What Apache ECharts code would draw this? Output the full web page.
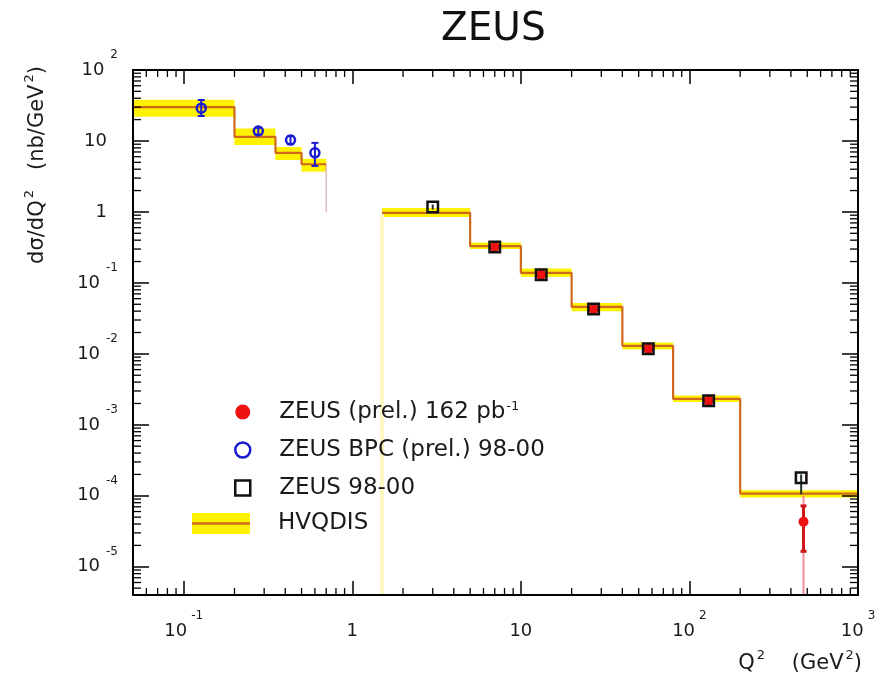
<!DOCTYPE html>
<html><head><meta charset="utf-8">
<script src="https://cdn.jsdelivr.net/npm/echarts@6/dist/echarts.min.js"></script>
<style>html,body{margin:0;padding:0;background:#fff}#c{width:894px;height:689px}</style>
</head><body><div id="c"></div>
<script>
const FONT = '"DejaVu Sans", Verdana, sans-serif';
const TXT = '#1a1a1a';

// ---- axis ranges
const xMin = 0.05, xMax = 1000, yMin = 4e-6, yMax = 100;

// ---- HVQDIS prediction, low-Q2 (BPC) region
const hvqEdgesLow   = [0.05, 0.2, 0.35, 0.5, 0.7];
const hvqCentralLow = [30, 11.4, 6.8, 4.7];
const hvqLoLow      = [22, 8.8, 5.4, 3.7];
const hvqHiLow      = [38, 15.0, 8.2, 5.6];
const hvqDropLow    = 1.0;

// ---- HVQDIS prediction, DIS region
const hvqEdgesHigh   = [1.5, 5, 10, 20, 40, 80, 200, 1000];
const hvqCentralHigh = [0.97, 0.33, 0.138, 0.046, 0.013, 0.00232, 0.000107];
const hvqLoHigh      = [0.85, 0.30, 0.122, 0.040, 0.0115, 0.0021, 0.000095];
const hvqHiHigh      = [1.14, 0.37, 0.160, 0.052, 0.0145, 0.0026, 0.00012];

// ---- ZEUS BPC (prel.) 98-00
const bpcQ2   = [0.127, 0.277, 0.43, 0.60];
const bpcXsec = [29, 13.8, 10.3, 6.8];
const bpcLo   = [22.5, 12.3, 9.0, 4.45];
const bpcHi   = [37.8, 15.3, 11.7, 9.4];

// ---- ZEUS (prel.) 162 pb-1
const redQ2     = [7.0, 13.2, 27, 57, 130, 475];
const redXsec   = [0.32, 0.13, 0.043, 0.0118, 0.00218, 0.000043];
const redStatLo = [0.30, 0.122, 0.040, 0.0110, 0.00200, 0.0000165];
const redStatHi = [0.34, 0.138, 0.046, 0.0127, 0.00238, 0.000072];
const redTotLo  = [0.29, 0.118, 0.039, 0.0106, 0.00192, 0.000004];
const redTotHi  = [0.35, 0.142, 0.047, 0.0131, 0.00246, 0.000100];

// ---- ZEUS 98-00
const sqQ2   = [3.0, 7.0, 13.2, 27, 57, 130, 460];
const sqXsec = [1.17, 0.32, 0.13, 0.043, 0.0118, 0.00218, 0.00018];
const sqLo   = [1.08, 0.30, 0.122, 0.040, 0.0110, 0.00200, 0.000105];
const sqHi   = [1.27, 0.34, 0.138, 0.046, 0.0127, 0.00238, 0.000200];

// ---- tick decades (labels 10^n)
const xDecades = [0.01, 0.1, 1, 10, 100];
const yDecades = [1e-6, 1e-5, 1e-4, 1e-3, 1e-2, 0.1, 1, 10];

const N_RED = 'ZEUS (prel.) 162 pb-1';
const N_BPC = 'ZEUS BPC (prel.) 98-00';
const N_SQ  = 'ZEUS 98-00';
const N_HVQ = 'HVQDIS';

function minorTicks(decades, lo, hi) {
  const out = [];
  decades.forEach(d => { for (let k = 2; k <= 9; k++) { const v = d * k; if (v > lo && v < hi) out.push(v); } });
  return out;
}
const xMinor = minorTicks(xDecades, xMin, xMax);
const yMinor = minorTicks(yDecades, yMin, yMax);

function bands(edges, lo, hi) {
  return lo.map((l, i) => [edges[i], edges[i + 1], l, hi[i]]);
}
function steps(edges, vals) {
  const pts = [];
  vals.forEach((v, i) => { pts.push([edges[i], v]); pts.push([edges[i + 1], v]); });
  return pts;
}
function errs(xs, lo, hi) { return xs.map((x, i) => [x, lo[i], hi[i]]); }

const BAND = '#fff200';
const LINE = '#d0681c';

function errRender(color, width, cap) {
  return function (params, api) {
    const x = api.value(0);
    const a = api.coord([x, api.value(2)]);
    const b = api.coord([x, api.value(1)]);
    const st = { stroke: color, lineWidth: width };
    const ch = [{ type: 'line', shape: { x1: a[0], y1: a[1], x2: b[0], y2: b[1] }, style: st }];
    if (cap) {
      ch.push({ type: 'line', shape: { x1: a[0] - cap, y1: a[1], x2: a[0] + cap, y2: a[1] }, style: st });
      ch.push({ type: 'line', shape: { x1: b[0] - cap, y1: b[1], x2: b[0] + cap, y2: b[1] }, style: st });
    }
    return { type: 'group', children: ch };
  };
}

function tickLabel(v) {
  const e = Math.round(Math.log10(v));
  if (e === 0) return '{bp|1}';
  if (e === 1) return '{bp|10}';
  return '{b|10}{e|' + e + '}';
}
const tickRich = {
  b:  { fontSize: 18, lineHeight: 42, fontFamily: FONT, color: TXT },
  bp: { fontSize: 18, lineHeight: 42, fontFamily: FONT, color: TXT, padding: [0, 11, 0, 0] },
  e:  { fontSize: 12, lineHeight: 14, fontFamily: FONT, color: TXT, verticalAlign: 'top', padding: [0, 0, 0, 6] }
};
const tickRichX = {
  b:  tickRich.b,
  bp: { fontSize: 18, lineHeight: 42, fontFamily: FONT, color: TXT },
  e:  { fontSize: 12, lineHeight: 14, fontFamily: FONT, color: TXT, verticalAlign: 'top', padding: [0, 0, 0, 4] }
};
const nameRich = {
  b: { fontSize: 21, lineHeight: 30, fontFamily: FONT, color: TXT },
  s: { fontSize: 13, lineHeight: 13, fontFamily: FONT, color: TXT, verticalAlign: 'top', padding: [0, 0, 0, 2] }
};

const frame = { show: true, onZero: false, lineStyle: { color: '#000', width: 2 } };
const majorTickX = { show: true, inside: true, length: 14, lineStyle: { color: '#000', width: 1.5 } };
const majorTickY = { show: true, inside: true, length: 16, lineStyle: { color: '#000', width: 1.5 } };

const option = {
  animation: false,
  backgroundColor: '#fff',
  title: {
    text: 'ZEUS', left: 441, top: 10, padding: 0,
    textStyle: { fontSize: 39, fontWeight: 'normal', fontFamily: FONT, color: '#111', lineHeight: 40 }
  },
  grid: { left: 133, right: 36, top: 70, bottom: 94 },
  xAxis: [
    {
      type: 'log', logBase: 10, min: xMin, max: xMax, position: 'bottom', z: 10,
      axisLine: frame, axisTick: majorTickX,
      splitLine: { show: false }, minorTick: { show: false },
      axisLabel: { margin: 15, showMinLabel: false, showMaxLabel: true, formatter: tickLabel, rich: tickRichX, fontFamily: FONT, color: TXT },
      name: '{b|Q}{s|2}{b|    (GeV}{s|2}{b|)}', nameLocation: 'end', nameGap: 4,
      nameTextStyle: { align: 'right', verticalAlign: 'top', padding: [54, 0, 0, 0], fontFamily: FONT, color: TXT, rich: nameRich }
    },
    {
      type: 'log', logBase: 10, min: xMin, max: xMax, position: 'top', z: 10,
      axisLine: frame, axisTick: majorTickX,
      splitLine: { show: false }, axisLabel: { show: false }
    }
  ],
  yAxis: [
    {
      type: 'log', logBase: 10, min: yMin, max: yMax, position: 'left', z: 10,
      axisLine: frame, axisTick: majorTickY,
      splitLine: { show: false },
      axisLabel: { margin: 15, showMinLabel: false, showMaxLabel: true, formatter: tickLabel, rich: tickRich, fontFamily: FONT, color: TXT },
      name: '{b|dσ/dQ}{s|2}{b|   (nb/GeV}{s|2}{b|)}', nameLocation: 'middle', nameGap: 95, nameRotate: 90,
      nameTextStyle: { align: 'center', verticalAlign: 'middle', padding: [0, 0, 0, 335], fontFamily: FONT, color: TXT, rich: nameRich }
    },
    {
      type: 'log', logBase: 10, min: yMin, max: yMax, position: 'right', z: 10,
      axisLine: frame, axisTick: majorTickY,
      splitLine: { show: false }, axisLabel: { show: false }
    }
  ],
  legend: [
    {
      orient: 'vertical', left: 234, top: 400, padding: 0, itemWidth: 15, itemHeight: 15, itemGap: 15,
      selectedMode: false,
      data: [
        { name: N_RED, icon: 'circle', itemStyle: { color: '#ee1111', borderWidth: 0 } },
        { name: N_BPC, icon: 'circle', itemStyle: { color: '#ffffff', borderColor: '#1a1ad0', borderWidth: 2.5 } },
        { name: N_SQ, icon: 'rect', itemStyle: { color: '#ffffff', borderColor: '#111111', borderWidth: 2.5 } }
      ],
      formatter: function (n) {
        if (n === N_RED) return '{f|ZEUS (prel.) 162 pb}{e|-1}';
        return '{f|' + n + '}';
      },
      textStyle: {
        fontFamily: FONT, color: TXT,
        rich: {
          f: { fontSize: 23, lineHeight: 24, fontFamily: FONT, color: TXT, padding: [0, 0, 0, 24] },
          e: { fontSize: 13, lineHeight: 12, fontFamily: FONT, color: TXT, verticalAlign: 'top', padding: [0, 0, 0, 1] }
        }
      }
    },
    {
      orient: 'vertical', left: 192, top: 512, padding: 0, itemWidth: 58, itemHeight: 21,
      selectedMode: false,
      data: [{ name: N_HVQ, icon: 'rect', itemStyle: { color: BAND, borderWidth: 0 } }],
      formatter: function (n) { return '{f|' + n + '}'; },
      textStyle: {
        fontFamily: FONT, color: TXT,
        rich: { f: { fontSize: 23, lineHeight: 24, fontFamily: FONT, color: TXT, padding: [0, 0, 0, 23] } }
      }
    },
    {
      orient: 'vertical', left: 192, top: 512, padding: 0, itemWidth: 58, itemHeight: 21,
      selectedMode: false,
      data: [{ name: N_HVQ, icon: 'path://M0,0H58V0.02H0Z M0,9.2H58V11.8H0Z M0,20.98H58V21H0Z', itemStyle: { color: LINE, borderWidth: 0 } }],
      formatter: function () { return '{f| }'; },
      textStyle: { rich: { f: { fontSize: 23, lineHeight: 24, fontFamily: FONT, color: 'rgba(0,0,0,0)', padding: [0, 0, 0, 23] } } }
    }
  ],
  series: [
    {
      name: N_HVQ, type: 'custom', z: 1, silent: true,
      data: bands(hvqEdgesLow, hvqLoLow, hvqHiLow).concat(bands(hvqEdgesHigh, hvqLoHigh, hvqHiHigh)),
      encode: { x: [0, 1], y: [2, 3] },
      renderItem: function (params, api) {
        const p0 = api.coord([api.value(0), api.value(3)]);
        const p1 = api.coord([api.value(1), api.value(2)]);
        return { type: 'rect', shape: { x: p0[0], y: p0[1], width: p1[0] - p0[0], height: p1[1] - p0[1] }, style: { fill: BAND } };
      }
    },
    {
      name: 'hvqdis-edge-high', type: 'line', z: 1, silent: true, symbol: 'none',
      data: [[hvqEdgesHigh[0], hvqCentralHigh[0]], [hvqEdgesHigh[0], yMin]],
      lineStyle: { color: '#fff7c4', width: 4 }
    },
    {
      name: 'hvqdis-edge-low', type: 'line', z: 2, silent: true, symbol: 'none',
      data: [[hvqEdgesLow[hvqEdgesLow.length - 1], hvqCentralLow[hvqCentralLow.length - 1]], [hvqEdgesLow[hvqEdgesLow.length - 1], hvqDropLow]],
      lineStyle: { color: '#d9b3b3', width: 1.3 }
    },
    {
      name: N_HVQ, type: 'line', z: 2, silent: true, symbol: 'none',
      data: steps(hvqEdgesLow, hvqCentralLow),
      lineStyle: { color: LINE, width: 2.2 }
    },
    {
      name: N_HVQ, type: 'line', z: 2, silent: true, symbol: 'none',
      data: steps(hvqEdgesHigh, hvqCentralHigh),
      lineStyle: { color: LINE, width: 2.2 }
    },
    {
      name: 'bpc-err', type: 'custom', z: 3, silent: true,
      data: errs(bpcQ2, bpcLo, bpcHi), encode: { x: 0, y: [1, 2] },
      renderItem: errRender('#1a1ad0', 2, 3.5)
    },
    {
      name: 'red-tot-err', type: 'custom', z: 3, silent: true,
      data: errs(redQ2, redTotLo, redTotHi), encode: { x: 0, y: [1, 2] },
      renderItem: errRender('#f28a9c', 2, 0)
    },
    {
      name: 'red-stat-err', type: 'custom', z: 3, silent: true,
      data: errs(redQ2, redStatLo, redStatHi), encode: { x: 0, y: [1, 2] },
      renderItem: errRender('#d01818', 3, 3)
    },
    {
      name: 'sq-err', type: 'custom', z: 3, silent: true,
      data: errs(sqQ2, sqLo, sqHi), encode: { x: 0, y: [1, 2] },
      renderItem: errRender('#223322', 2, 0)
    },
    {
      name: N_RED, type: 'scatter', z: 4, silent: true,
      data: redQ2.map((x, i) => [x, redXsec[i]]),
      symbol: 'circle', symbolSize: 10,
      itemStyle: { color: '#ee1111', borderWidth: 0, opacity: 1 }
    },
    {
      name: N_SQ, type: 'scatter', z: 5, silent: true,
      data: sqQ2.map((x, i) => [x, sqXsec[i]]),
      symbol: 'rect', symbolSize: 10.5,
      itemStyle: { color: 'rgba(255,255,255,0)', borderColor: '#111111', borderWidth: 2.5, opacity: 1 }
    },
    {
      name: N_BPC, type: 'scatter', z: 5, silent: true,
      data: bpcQ2.map((x, i) => [x, bpcXsec[i]]),
      symbol: 'circle', symbolSize: 9,
      itemStyle: { color: 'rgba(255,255,255,0)', borderColor: '#1a1ad0', borderWidth: 2.5, opacity: 1 }
    },
    {
      name: 'x-minor-ticks', type: 'custom', z: 10, silent: true,
      data: xMinor.map(v => [v, 1]), encode: { x: 0, y: 1 },
      renderItem: function (params, api) {
        const cs = params.coordSys;
        const x = api.coord([api.value(0), 1])[0];
        const yb = cs.y + cs.height, yt = cs.y;
        const st = { stroke: '#000', lineWidth: 1.3 };
        return { type: 'group', children: [
          { type: 'line', shape: { x1: x, y1: yb, x2: x, y2: yb - 7 }, style: st },
          { type: 'line', shape: { x1: x, y1: yt, x2: x, y2: yt + 7 }, style: st }
        ] };
      }
    },
    {
      name: 'y-minor-ticks', type: 'custom', z: 10, silent: true,
      data: yMinor.map(v => [1, v]), encode: { x: 0, y: 1 },
      renderItem: function (params, api) {
        const cs = params.coordSys;
        const y = api.coord([1, api.value(1)])[1];
        const xl = cs.x, xr = cs.x + cs.width;
        const st = { stroke: '#000', lineWidth: 1.3 };
        return { type: 'group', children: [
          { type: 'line', shape: { x1: xl, y1: y, x2: xl + 8, y2: y }, style: st },
          { type: 'line', shape: { x1: xr, y1: y, x2: xr - 8, y2: y }, style: st }
        ] };
      }
    }
  ]
};

const chart = echarts.init(document.getElementById('c'), null, { renderer: 'canvas' });
chart.setOption(option);
</script>
</body></html>
